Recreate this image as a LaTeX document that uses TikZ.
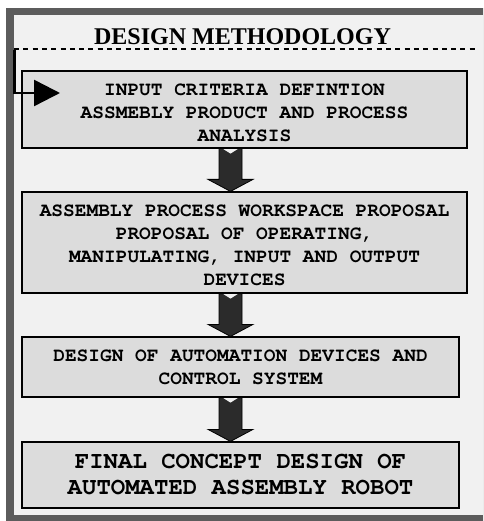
\documentclass[tikz,border=0pt]{standalone}
\usepackage[T1]{fontenc}
\usepackage{fontspec}
\setmainfont{Liberation Serif}
\newcommand{\courfont}{\usefont{T1}{pcr}{b}{n}}
\usetikzlibrary{arrows.meta}
\definecolor{framegray}{HTML}{5C5C5C}
\definecolor{bgpanel}{HTML}{F1F1F1}
\definecolor{boxfill}{HTML}{DCDCDC}
\definecolor{arrowfill}{HTML}{2B2B2B}
\tikzset{
  stagebox/.style={draw=black, line width=1.2pt, fill=boxfill, inner sep=0pt},
  stagetext/.style={inner sep=0pt, align=center, font=\fontsize{19.5}{23}\courfont},
  bigtext/.style={inner sep=0pt, align=center, font=\fontsize{24}{26}\courfont},
  blockarrow/.style={draw=black, line width=0.8pt, fill=arrowfill},
  notch/.style={fill=bgpanel, draw=none},
  entryline/.style={line width=2.5pt, -{Triangle[length=26pt,width=26pt]}},
  dashline/.style={line width=1.5pt, dash pattern=on 5pt off 4.3pt}
}
\newcommand{\flowarrow}[2]{%
  \path[blockarrow] (219,0 |- #1.south) -- (242,0 |- #1.south) -- ([yshift=12pt]242,0 |- #2.north)
    -- ([yshift=12pt]253,0 |- #2.north) -- (230.5,0 |- #2.north) -- ([yshift=12pt]208,0 |- #2.north)
    -- ([yshift=12pt]219,0 |- #2.north) -- cycle;
  \path[notch] ([yshift=-0.6pt]223.5,0 |- #1.south) -- ([yshift=-0.6pt]237.5,0 |- #1.south) -- ([yshift=-5pt]230.5,0 |- #1.south) -- cycle;
}
\begin{document}
\begin{tikzpicture}[x=1pt,y=-1pt]
\useasboundingbox (0,0) rectangle (483,521);
\begin{scope}
\clip (0,0) rectangle (483,521);
\fill[framegray] (6,8) rectangle (490,530);
\fill[bgpanel] (14,15) rectangle (490,515);
\end{scope}
\node[anchor=base, font=\bfseries\fontsize{24}{26}\selectfont] (title) at (242.5,45) {DESIGN METHODOLOGY};
\coordinate (dashstart) at (14,49);
\coordinate (dashend) at (478,49);
\draw[dashline] (dashstart) -- (dashend);
\node[stagebox, minimum width=445pt, minimum height=77pt] (b1) at (244.5,109.5) {};
\node[stagetext] (t1) at (244.5,112.5)
  {INPUT CRITERIA DEFINTION\\ASSMEBLY PRODUCT AND PROCESS\\ANALYSIS};
\node[stagebox, minimum width=445pt, minimum height=101pt] (b2) at (244.5,242.5) {};
\node[stagetext] (t2) at (244.5,245.5)
  {ASSEMBLY PROCESS WORKSPACE PROPOSAL\\PROPOSAL OF OPERATING,\\MANIPULATING, INPUT AND OUTPUT\\DEVICES};
\node[stagebox, minimum width=437pt, minimum height=60pt] (b3) at (240.5,367) {};
\node[stagetext] (t3) at (240.5,367.5)
  {DESIGN OF AUTOMATION DEVICES AND\\CONTROL SYSTEM};
\node[stagebox, minimum width=437pt, minimum height=66pt] (b4) at (240.5,475) {};
\node[bigtext] (t4) at (240.5,475)
  {FINAL CONCEPT DESIGN OF\\AUTOMATED ASSEMBLY ROBOT};
\coordinate (entrycorner) at (14.5,93);
\coordinate (entrytip) at (60,93);
\draw[entryline] ([yshift=-0.7pt]dashstart -| entrycorner) -- (entrycorner) -- (entrytip);
\flowarrow{b1}{b2}
\flowarrow{b2}{b3}
\flowarrow{b3}{b4}
\end{tikzpicture}
\end{document}
